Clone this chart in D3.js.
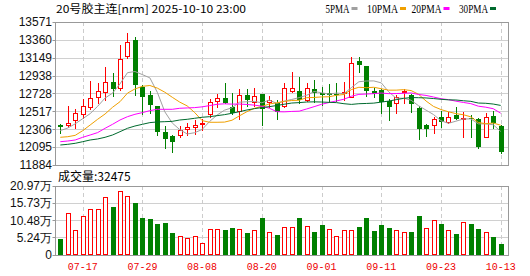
<!DOCTYPE html>
<html><head><meta charset="utf-8">
<script src="https://cdn.jsdelivr.net/npm/d3@7"></script>
<style>body{margin:0;background:#fff}svg{display:block}</style>
</head><body><svg id="c" width="530" height="276"></svg>
<script>
const dates = ["07-14","07-15","07-16","07-17","07-18","07-21","07-22","07-23","07-24","07-25","07-28","07-29","07-30","07-31","08-01","08-04","08-05","08-06","08-07","08-08","08-11","08-12","08-13","08-14","08-15","08-18","08-19","08-20","08-21","08-22","08-25","08-26","08-27","08-28","08-29","09-01","09-02","09-03","09-04","09-05","09-08","09-09","09-10","09-11","09-12","09-15","09-16","09-17","09-18","09-19","09-22","09-23","09-24","09-25","09-26","09-29","09-30","10-09","10-10","10-13"];
const openP = [12352,12359,12415,12485,12564,12682,12745,12863,12792,13170,13359,12808,12710,12580,12277,12226,12238,12312,12328,12373,12485,12642,12671,12564,12524,12706,12631,12721,12631,12619,12580,12753,12757,12651,12777,12728,12730,12725,12737,12690,13111,13055,12757,12769,12642,12619,12749,12710,12560,12352,12352,12446,12395,12474,12423,12442,12423,12210,12462,12344];
const highP = [12367,12580,12541,12659,12878,12855,13036,12966,13296,13445,13398,12824,12760,12580,12344,12240,12344,12376,12415,12430,12666,12721,12848,12737,12777,12777,12789,12721,12698,12651,12855,12985,12926,12848,12887,12808,12839,12855,12867,13154,13154,13055,12789,12777,12659,12710,12777,12721,12580,12367,12454,12524,12513,12564,12513,12474,12435,12494,12524,12356];
const lowP = [12261,12328,12317,12435,12541,12612,12651,12698,12769,13143,12710,12485,12494,12238,12081,12041,12218,12238,12249,12297,12454,12564,12612,12482,12430,12580,12580,12356,12564,12423,12564,12749,12619,12642,12631,12592,12631,12639,12651,12682,12985,12698,12682,12494,12415,12494,12619,12512,12194,12226,12265,12336,12376,12426,12210,12218,12088,12210,12317,12029];
const closeP = [12328,12376,12494,12583,12671,12757,12863,12784,13131,13331,12824,12682,12592,12277,12187,12159,12297,12328,12352,12379,12627,12678,12619,12494,12706,12651,12698,12541,12651,12513,12789,12789,12651,12789,12737,12712,12714,12716,12749,13091,13060,12760,12721,12631,12564,12682,12760,12603,12305,12305,12423,12395,12454,12426,12435,12430,12100,12454,12376,12041];
const volume = [47060,125800,73650,116600,138100,138100,174900,145300,193300,179000,157500,111500,108400,93100,97200,66500,57300,49100,55200,34800,76700,76700,74700,80800,76700,65500,73700,110500,67500,58300,82900,82900,110500,85900,68500,89000,76700,55200,73700,73700,82900,110500,70600,89000,79800,73700,67500,68500,117600,79800,104300,93100,73700,62400,98200,93100,77700,68500,53200,32475];
const ma5 = [12290,12320,12370,12430,12490,12576,12674,12732,12841,12973,12987,12950,12912,12741,12512,12379,12302,12250,12265,12303,12397,12473,12531,12559,12625,12630,12634,12618,12649,12611,12638,12657,12679,12706,12751,12736,12721,12733,12725,12797,12866,12875,12876,12853,12747,12672,12672,12648,12583,12531,12479,12406,12376,12401,12427,12428,12369,12369,12359,12280];
const ma10 = [12211,12218,12234,12289,12356,12423,12486,12565,12631,12732,12781,12812,12822,12791,12743,12683,12626,12581,12503,12408,12388,12388,12390,12412,12464,12513,12553,12575,12604,12618,12634,12645,12648,12678,12681,12687,12689,12706,12716,12774,12801,12796,12801,12784,12767,12767,12773,12762,12718,12639,12575,12538,12512,12490,12477,12452,12386,12371,12379,12353];
const ma20 = [12159,12167,12179,12211,12238,12266,12317,12364,12415,12454,12482,12502,12525,12541,12541,12541,12553,12557,12561,12570,12585,12600,12606,12602,12603,12598,12590,12578,12554,12513,12511,12516,12519,12545,12572,12600,12621,12640,12660,12695,12717,12721,12726,12733,12726,12727,12730,12734,12716,12705,12686,12666,12655,12637,12622,12608,12578,12566,12548,12495];
const ma30 = [12120,12128,12140,12159,12179,12191,12211,12238,12277,12317,12344,12364,12384,12392,12395,12399,12415,12423,12435,12447,12454,12466,12478,12494,12513,12533,12549,12561,12572,12586,12601,12615,12620,12627,12629,12627,12623,12620,12607,12599,12607,12610,12614,12626,12638,12655,12670,12680,12678,12675,12668,12659,12653,12651,12642,12635,12615,12612,12603,12587];
const priceTicks = [11884,12095,12306,12517,12728,12938,13149,13360,13571];
const volTicks = [0,52425,104850,157275,209700];
const volTickLabels = ["0","5.24万","10.48万","15.73万","20.97万"];
const dateTicks = ["07-17","07-29","08-08","08-20","09-01","09-11","09-23","10-13"];
const maNames = ["5PMA","10PMA","20PMA","30PMA"];
const maColors = ["#a0a0a0","#f0a000","#ff00ff","#006a2e"];
const title = "20号胶主连[nrm] 2025-10-10 23:00";
const volLabel = "成交量:32475";

const svg = d3.select("#c");
const L = 55, R = 509, PT = 22, PB = 165, VT = 186, VB = 254.5;
const x = d3.scalePoint().domain(dates).range([60.3, 500.7]);
const y = d3.scaleLinear().domain([11884, 13571]).range([PB, PT]);
const yv = d3.scaleLinear().domain([0, 209700]).range([VB, VT]);
const RED = "#ff0000", GREEN = "#008000";
const px = d => Math.round(x(d));

function grids(g, top, bottom, ys) {
  g.selectAll("line.h").data(ys).join("line")
    .attr("x1", L).attr("x2", R)
    .attr("y1", d => Math.round(d) + 0.5).attr("y2", d => Math.round(d) + 0.5)
    .attr("stroke", "#d0d0d0");
  g.selectAll("line.v").data(dateTicks).join("line").attr("class","v")
    .attr("x1", d => px(d) + 0.5).attr("x2", d => px(d) + 0.5)
    .attr("y1", top).attr("y2", bottom)
    .attr("stroke", "#cccccc").attr("stroke-dasharray", "4,3");
}
const gp = svg.append("g");
grids(gp, PT, PB, priceTicks.slice(1, -1).map(v => y(v)));
const gv = svg.append("g");
grids(gv, VT, VB, volTicks.slice(1, -1).map(v => yv(v)));

svg.append("rect").attr("x", L + 0.5).attr("y", PT + 0.5).attr("width", R - L - 1).attr("height", PB - PT)
  .attr("fill", "none").attr("stroke", "#999");
svg.append("rect").attr("x", L + 0.5).attr("y", VT + 0.5).attr("width", R - L - 1).attr("height", Math.round(VB) - VT)
  .attr("fill", "none").attr("stroke", "#999");

const ax = svg.append("g").attr("font-family", "'Liberation Sans', Arial, sans-serif").attr("font-size", 12).attr("fill", "#111");
ax.selectAll("text.p").data(priceTicks).join("text").attr("class","p")
  .attr("x", 52).attr("y", d => y(d)).attr("dy", "0.36em").attr("text-anchor", "end").text(d => d);
ax.selectAll("line.pt").data(priceTicks).join("line").attr("class","pt")
  .attr("x1", 52.5).attr("x2", L).attr("y1", d => Math.round(y(d)) + 0.5).attr("y2", d => Math.round(y(d)) + 0.5)
  .attr("stroke", "#999");
ax.selectAll("text.v").data(volTicks).join("text").attr("class","v")
  .attr("x", 52).attr("y", d => yv(d)).attr("dy", "0.36em").attr("text-anchor", "end")
  .text((d, i) => volTickLabels[i]);
ax.selectAll("line.vt").data(volTicks).join("line").attr("class","vt")
  .attr("x1", 52.5).attr("x2", L).attr("y1", d => Math.round(yv(d)) + 0.5).attr("y2", d => Math.round(yv(d)) + 0.5)
  .attr("stroke", "#999");

svg.append("g").selectAll("text").data(dateTicks).join("text")
  .attr("x", d => x(d)).attr("y", 270).attr("text-anchor", "middle")
  .attr("font-family", "'Liberation Mono', 'DejaVu Sans Mono', monospace").attr("font-size", 11)
  .attr("textLength", 30).attr("lengthAdjust", "spacingAndGlyphs")
  .attr("fill", "#ee0000").text(d => d);

const idx = d3.range(dates.length);
const cg = svg.append("g");
idx.forEach(i => {
  const cx = px(dates[i]);
  const up = closeP[i] > openP[i];
  const col = up ? RED : GREEN;
  cg.append("line").attr("x1", cx + 0.5).attr("x2", cx + 0.5)
    .attr("y1", Math.round(y(highP[i]))).attr("y2", Math.round(y(lowP[i])) + 1).attr("stroke", col);
  const yo = Math.round(y(openP[i])), yc = Math.round(y(closeP[i]));
  if (up) {
    cg.append("rect").attr("x", cx - 2 + 0.5).attr("y", yc + 0.5).attr("width", 4).attr("height", Math.max(1, yo - yc))
      .attr("fill", "#fff").attr("stroke", RED);
  } else {
    cg.append("rect").attr("x", cx - 2).attr("y", Math.min(yo, yc)).attr("width", 5).attr("height", Math.max(1, Math.abs(yc - yo)))
      .attr("fill", GREEN);
  }
});

[ma5, ma10, ma20, ma30].forEach((arr, k) => {
  svg.append("path").datum(arr)
    .attr("d", d3.line().x((d, i) => x(dates[i])).y(d => y(d)))
    .attr("fill", "none").attr("stroke", maColors[k]).attr("stroke-width", 1);
});

const vg = svg.append("g");
idx.forEach(i => {
  const cx = px(dates[i]);
  const up = i === 0 ? closeP[i] > openP[i] : closeP[i] >= closeP[i - 1];
  const top = Math.round(yv(volume[i]));
  const base = Math.round(VB);
  if (up) {
    vg.append("rect").attr("x", cx - 2 + 0.5).attr("y", top + 0.5).attr("width", 4).attr("height", base - top - 1)
      .attr("fill", "#fff").attr("stroke", RED);
  } else {
    vg.append("rect").attr("x", cx - 2).attr("y", top).attr("width", 5).attr("height", base - top)
      .attr("fill", GREEN);
  }
});

svg.append("text").attr("x", 56).attr("y", 13).attr("font-family", "'Noto Sans CJK SC', sans-serif")
  .attr("font-size", 11).attr("textLength", 190).attr("lengthAdjust", "spacingAndGlyphs").attr("fill", "#000").text(title);
const legX = [325.5, 367, 411.5, 459];
const legW = [24, 31, 30, 29];
const lg = svg.append("g");
maNames.forEach((n, k) => {
  lg.append("text").attr("x", legX[k]).attr("y", 13).attr("font-family", "'Liberation Serif', serif")
    .attr("font-size", 12).attr("textLength", legW[k]).attr("lengthAdjust", "spacingAndGlyphs").attr("fill", "#000").text(n);
  lg.append("rect").attr("x", legX[k] + legW[k] + 2).attr("y", 7).attr("width", 6).attr("height", 3).attr("fill", maColors[k]);
});
svg.append("text").attr("x", 58).attr("y", 181).attr("font-family", "'Noto Sans CJK SC', sans-serif")
  .attr("font-size", 12).attr("fill", "#000").text(volLabel);
</script></body></html>
